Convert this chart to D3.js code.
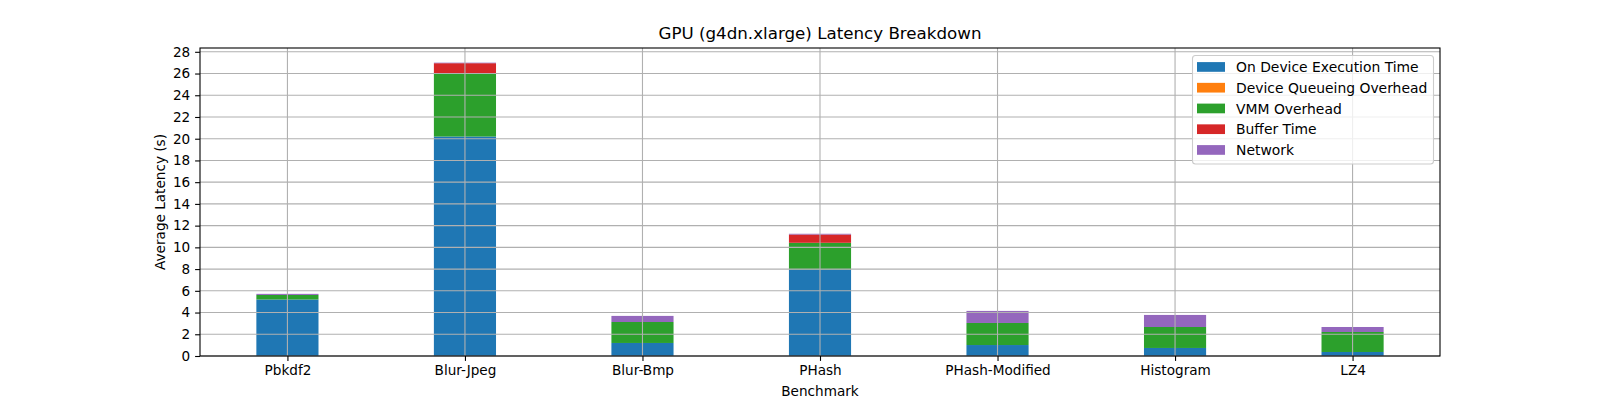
<!DOCTYPE html>
<html>
<head>
<meta charset="utf-8">
<script src="https://cdn.jsdelivr.net/npm/d3@7"></script>
<style>
  html, body { margin: 0; padding: 0; background: #fff; }
  svg { display: block; font-family: "DejaVu Sans", sans-serif; }
</style>
</head>
<body>
<svg id="chart" width="1600" height="400"></svg>
<script>
const categories = ["Pbkdf2", "Blur-Jpeg", "Blur-Bmp", "PHash", "PHash-Modified", "Histogram", "LZ4"];
const seriesNames = ["On Device Execution Time", "Device Queueing Overhead", "VMM Overhead", "Buffer Time", "Network"];
const onDevice   = [5.20, 20.20, 1.20, 7.97, 1.01, 0.74, 0.37];
const queueing   = [0, 0, 0, 0, 0, 0, 0];
const vmm        = [0.42, 5.77, 1.93, 2.45, 2.03, 1.93, 1.84];
const buffer     = [0, 0.98, 0, 0.76, 0, 0, 0];
const network    = [0.10, 0.05, 0.56, 0.07, 1.11, 1.11, 0.46];
const yTicks = [0, 2, 4, 6, 8, 10, 12, 14, 16, 18, 20, 22, 24, 26, 28];
const colors = ["#1f77b4", "#ff7f0e", "#2ca02c", "#d62728", "#9467bd"];

(function () {
const seriesValues = [onDevice, queueing, vmm, buffer, network];
const svg = d3.select("#chart");
const mL = 200, mR = 1440, mT = 48, mB = 356;
const barW = 0.35;

const rows = categories.map((c, i) => {
  const r = { cat: c, idx: i };
  seriesNames.forEach((s, k) => r[s] = seriesValues[k][i]);
  return r;
});
const stack = d3.stack().keys(seriesNames)(rows);
const maxTotal = d3.max(rows, r => d3.sum(seriesNames, s => r[s]));

const span = (categories.length - 1) + barW;
const xm = span * 0.05;
const x = d3.scaleLinear().domain([-barW / 2 - xm, categories.length - 1 + barW / 2 + xm]).range([mL, mR]);
const y = d3.scaleLinear().domain([0, maxTotal * 1.05]).range([mB, mT]);

// bars
stack.forEach((layer, k) => {
  svg.append("g").attr("fill", colors[k])
    .selectAll("rect").data(layer).join("rect")
    .attr("x", (d, i) => x(i - barW / 2))
    .attr("width", x(barW) - x(0))
    .attr("y", d => y(d[1]))
    .attr("height", d => y(d[0]) - y(d[1]));
});

// grid (drawn above bars like matplotlib default)
const grid = svg.append("g").attr("stroke", "#b0b0b0").attr("stroke-width", 1.1);
grid.selectAll("line.h").data(yTicks).join("line").attr("class", "h")
  .attr("x1", mL).attr("x2", mR)
  .attr("y1", d => y(d)).attr("y2", d => y(d));
grid.selectAll("line.v").data(categories).join("line").attr("class", "v")
  .attr("x1", (d, i) => x(i)).attr("x2", (d, i) => x(i))
  .attr("y1", mT).attr("y2", mB);

// axes
const yAxis = d3.axisLeft(y).tickValues(yTicks).tickSize(4.9).tickPadding(4.9).tickFormat(d3.format("d"));
const gy = svg.append("g").attr("transform", `translate(${mL},0)`).call(yAxis);
const xAxis = d3.axisBottom(x).tickValues(d3.range(categories.length)).tickSize(4.9).tickPadding(4.9).tickFormat(i => categories[i]);
const gx = svg.append("g").attr("transform", `translate(0,${mB})`).call(xAxis);
[gx, gy].forEach(g => {
  g.select(".domain").remove();
  g.selectAll(".tick line").attr("stroke", "#000").attr("stroke-width", 1.1);
  g.selectAll(".tick text").attr("fill", "#000").attr("font-size", "13.6px").attr("font-family", "DejaVu Sans");
});

// spines
svg.append("rect").attr("x", mL).attr("y", mT).attr("width", mR - mL).attr("height", mB - mT)
  .attr("fill", "none").attr("stroke", "#000").attr("stroke-width", 1.1);

// title & labels
svg.append("text").attr("x", (mL + mR) / 2).attr("y", 39).attr("text-anchor", "middle")
  .attr("font-size", "16.7px").attr("fill", "#000").text("GPU (g4dn.xlarge) Latency Breakdown");
svg.append("text").attr("x", (mL + mR) / 2).attr("y", 396).attr("text-anchor", "middle")
  .attr("font-size", "13.6px").attr("fill", "#000").text("Benchmark");
svg.append("text").attr("transform", `translate(160,${(mT + mB) / 2}) rotate(-90)`)
  .attr("text-anchor", "middle").attr("dominant-baseline", "central")
  .attr("font-size", "13.6px").attr("fill", "#000").text("Average Latency (s)");

// legend
const lg = svg.append("g");
lg.append("rect").attr("x", 1192.5).attr("y", 55.5).attr("width", 241).attr("height", 108.5)
  .attr("rx", 3).attr("fill", "rgba(255,255,255,0.8)").attr("stroke", "#cccccc").attr("stroke-width", 1.1);
const items = lg.selectAll("g.item").data(seriesNames).join("g").attr("class", "item")
  .attr("transform", (d, i) => `translate(0,${67 + i * 20.75})`);
items.append("rect").attr("x", 1197).attr("y", -4.9).attr("width", 28).attr("height", 9.7)
  .attr("fill", (d, i) => colors[i]);
items.append("text").attr("x", 1236).attr("y", 0).attr("dominant-baseline", "central")
  .attr("font-size", "13.9px").attr("fill", "#000").text(d => d);
})();
</script>
</body>
</html>
